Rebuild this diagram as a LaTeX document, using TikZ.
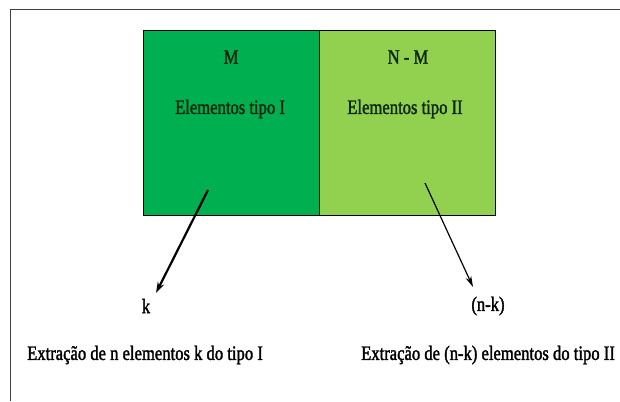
\documentclass[tikz,border=0pt]{standalone}
\usepackage{fontspec}
\setmainfont{Liberation Serif}
\newfontfamily\narrowserif[FakeStretch=0.81,FakeBold=1.6]{Liberation Serif}
\usepackage{tikz}
\usetikzlibrary{arrows.meta}
\definecolor{darkgreen}{RGB}{0,176,80}
\definecolor{lightgreen}{RGB}{146,208,80}
\definecolor{inktext}{RGB}{16,40,16}

\begin{document}
\begin{tikzpicture}[x=1pt,y=-1pt,
    box/.style={draw=black,line width=0.9pt,minimum width=176pt,minimum height=185pt,inner sep=0pt},
    lbl/.style={font=\narrowserif\fontsize{20.5}{24}\selectfont,inner sep=1pt},
    inlbl/.style={lbl,text=inktext}]
  \useasboundingbox (0,0) rectangle (620,401);
  % Outer frame
  \draw[line width=0.9pt,black!75] (10,401) -- (10,9) -- (620,9);
  % Boxes
  \node[box,fill=darkgreen] (tipoI) at (231,122.5) {};
  \node[box,fill=lightgreen] (tipoII) at (407,122.5) {};
  \node[inlbl] (m) at (231,57) {M};
  \node[inlbl] (elI) at (230,109) {Elementos tipo I};
  \node[inlbl] (nm) at (408,57) {N - M};
  \node[inlbl] (elII) at (405,109) {Elementos tipo II};
  % Results
  \node[lbl] (k) at (146,306) {k};
  \node[lbl] (nk) at (488,306) {(n-k)};
  \node[lbl] (extI) at (145,355) {Extração de n elementos k do tipo I};
  \node[lbl] (extII) at (488,355) {Extração de (n-k) elementos do tipo II};
  % Arrows
  \coordinate (fromI) at (208,190);
  \coordinate (toI) at (156,293);
  \coordinate (fromII) at (425,183);
  \coordinate (toII) at (473,287);
  \draw[-{Stealth[length=11pt,width=7pt]},line width=2.2pt] (fromI) -- (toI);
  \draw[-{Stealth[length=11pt,width=6pt]},line width=1.2pt] (fromII) -- (toII);
\end{tikzpicture}
\end{document}
